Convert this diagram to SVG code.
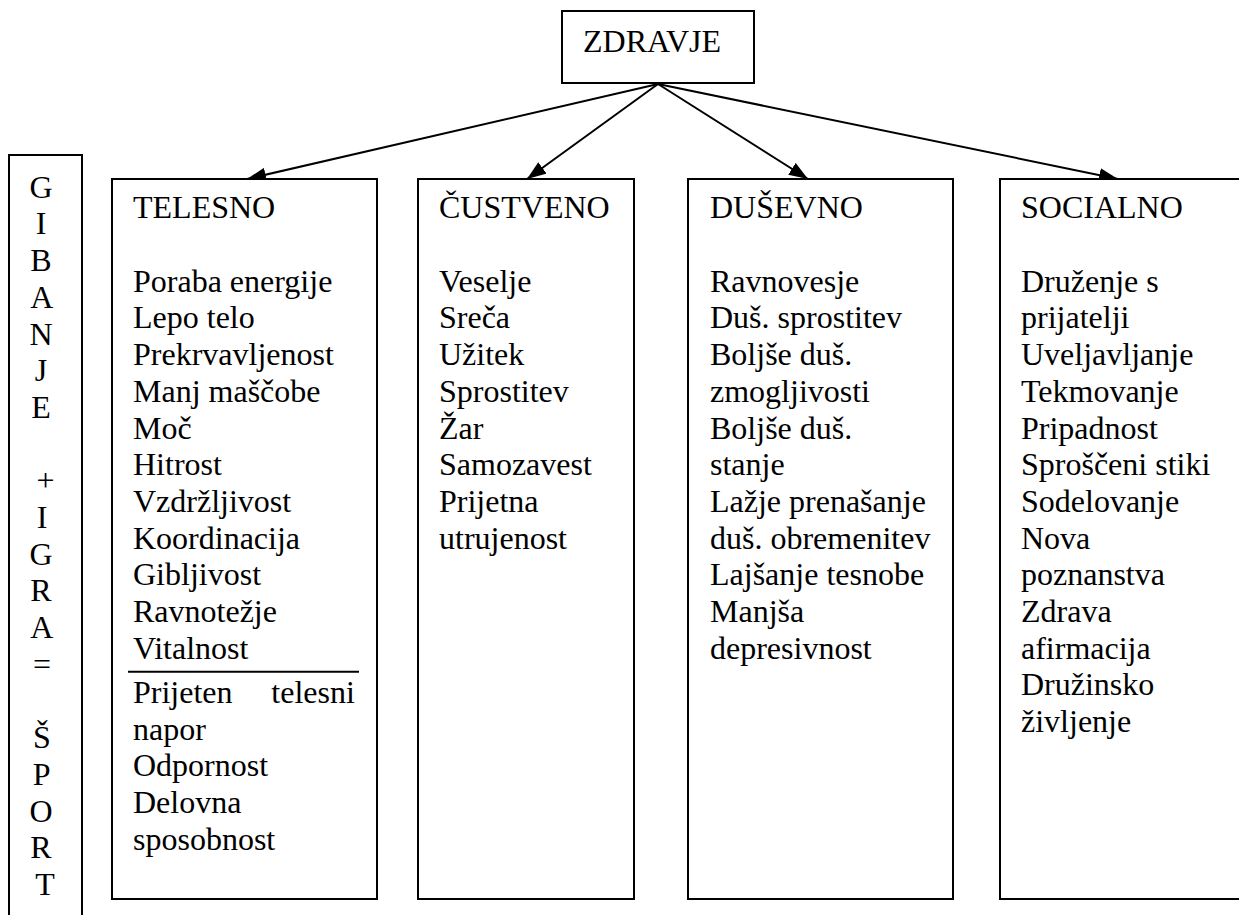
<svg xmlns="http://www.w3.org/2000/svg" width="1239" height="915" viewBox="0 0 1239 915">
<style>
.box{fill:#fff;stroke:#000;stroke-width:2}
.t{font-family:'Liberation Serif','Times New Roman','DejaVu Serif',serif;font-size:32px;fill:#000}
.c{text-anchor:middle}
.con{stroke:#000;stroke-width:2;fill:none;marker-end:url(#ah)}
</style>
<defs>
<marker id="ah" markerUnits="userSpaceOnUse" markerWidth="20" markerHeight="14" refX="19" refY="7" orient="auto">
<path d="M0,0 L19,7 L0,14 z" fill="#000"/>
</marker>
</defs>
<rect width="1239" height="915" fill="#fff"/>

<g id="connectors">
<line class="con" x1="658" y1="84" x2="247" y2="179"/>
<line class="con" x1="658" y1="84" x2="527" y2="179"/>
<line class="con" x1="658" y1="84" x2="808" y2="179"/>
<line class="con" x1="658" y1="84" x2="1118" y2="179"/>
</g>

<g id="zdravje">
<rect class="box" x="562" y="11" width="192" height="72"/>
<text class="t" font-family="Liberation Serif, serif" x="583" y="52">ZDRAVJE</text>
</g>

<g id="gibanje">
<rect class="box" x="9" y="155" width="73" height="780"/>
<text class="t c" font-family="Liberation Serif, serif">
<tspan x="45" y="197.7">G</tspan>
<tspan x="45" y="234.4">I</tspan>
<tspan x="45" y="271.1">B</tspan>
<tspan x="45" y="307.8">A</tspan>
<tspan x="45" y="344.5">N</tspan>
<tspan x="45" y="381.2">J</tspan>
<tspan x="45" y="417.9">E</tspan>
<tspan x="49.5" y="491.3">+</tspan>
<tspan x="46" y="528">I</tspan>
<tspan x="45" y="564.7">G</tspan>
<tspan x="45" y="601.4">R</tspan>
<tspan x="45" y="638.1">A</tspan>
<tspan x="46" y="674.8">=</tspan>
<tspan x="46" y="748.2">Š</tspan>
<tspan x="45" y="784.9">P</tspan>
<tspan x="45" y="821.6">O</tspan>
<tspan x="45" y="858.3">R</tspan>
<tspan x="45" y="895">T</tspan>
</text>
</g>

<g id="telesno">
<rect class="box" x="112" y="179" width="265" height="720"/>
<text class="t" font-family="Liberation Serif, serif">
<tspan x="133" y="218.3">TELESNO</tspan>
<tspan x="133" y="291.7">Poraba energije</tspan>
<tspan x="133" y="328.4">Lepo telo</tspan>
<tspan x="133" y="365.1">Prekrvavljenost</tspan>
<tspan x="133" y="401.8">Manj maščobe</tspan>
<tspan x="133" y="438.5">Moč</tspan>
<tspan x="133" y="475.2">Hitrost</tspan>
<tspan x="133" y="511.9">Vzdržljivost</tspan>
<tspan x="133" y="548.6">Koordinacija</tspan>
<tspan x="133" y="585.3">Gibljivost</tspan>
<tspan x="133" y="622">Ravnotežje</tspan>
<tspan x="133" y="658.7">Vitalnost</tspan>
</text>
<line x1="128" y1="671.7" x2="359" y2="671.7" stroke="#000" stroke-width="2"/>
<text class="t" font-family="Liberation Serif, serif">
<tspan x="133" y="702.8" word-spacing="30.8">Prijeten telesni</tspan>
<tspan x="133" y="739.5">napor</tspan>
<tspan x="133" y="776.2">Odpornost</tspan>
<tspan x="133" y="812.9">Delovna</tspan>
<tspan x="133" y="849.6">sposobnost</tspan>
</text>
</g>

<g id="custveno">
<rect class="box" x="418" y="179" width="216" height="720"/>
<text class="t" font-family="Liberation Serif, serif">
<tspan x="439" y="218.3">ČUSTVENO</tspan>
<tspan x="439" y="291.7">Veselje</tspan>
<tspan x="439" y="328.4">Sreča</tspan>
<tspan x="439" y="365.1">Užitek</tspan>
<tspan x="439" y="401.8">Sprostitev</tspan>
<tspan x="439" y="438.5">Žar</tspan>
<tspan x="439" y="475.2">Samozavest</tspan>
<tspan x="439" y="511.9">Prijetna</tspan>
<tspan x="439" y="548.6">utrujenost</tspan>
</text>
</g>

<g id="dusevno">
<rect class="box" x="688" y="179" width="265" height="720"/>
<text class="t" font-family="Liberation Serif, serif">
<tspan x="710" y="218.3">DUŠEVNO</tspan>
<tspan x="710" y="291.7">Ravnovesje</tspan>
<tspan x="710" y="328.4">Duš. sprostitev</tspan>
<tspan x="710" y="365.1">Boljše duš.</tspan>
<tspan x="710" y="401.8">zmogljivosti</tspan>
<tspan x="710" y="438.5">Boljše duš.</tspan>
<tspan x="710" y="475.2">stanje</tspan>
<tspan x="710" y="511.9">Lažje prenašanje</tspan>
<tspan x="710" y="548.6">duš. obremenitev</tspan>
<tspan x="710" y="585.3">Lajšanje tesnobe</tspan>
<tspan x="710" y="622">Manjša</tspan>
<tspan x="710" y="658.7">depresivnost</tspan>
</text>
</g>

<g id="socialno">
<rect class="box" x="1000" y="179" width="260" height="720"/>
<text class="t" font-family="Liberation Serif, serif">
<tspan x="1021" y="218.3">SOCIALNO</tspan>
<tspan x="1021" y="291.7">Druženje s</tspan>
<tspan x="1021" y="328.4">prijatelji</tspan>
<tspan x="1021" y="365.1">Uveljavljanje</tspan>
<tspan x="1021" y="401.8">Tekmovanje</tspan>
<tspan x="1021" y="438.5">Pripadnost</tspan>
<tspan x="1021" y="475.2">Sproščeni stiki</tspan>
<tspan x="1021" y="511.9">Sodelovanje</tspan>
<tspan x="1021" y="548.6">Nova</tspan>
<tspan x="1021" y="585.3">poznanstva</tspan>
<tspan x="1021" y="622">Zdrava</tspan>
<tspan x="1021" y="658.7">afirmacija</tspan>
<tspan x="1021" y="695.4">Družinsko</tspan>
<tspan x="1021" y="732.1">življenje</tspan>
</text>
</g>
</svg>
